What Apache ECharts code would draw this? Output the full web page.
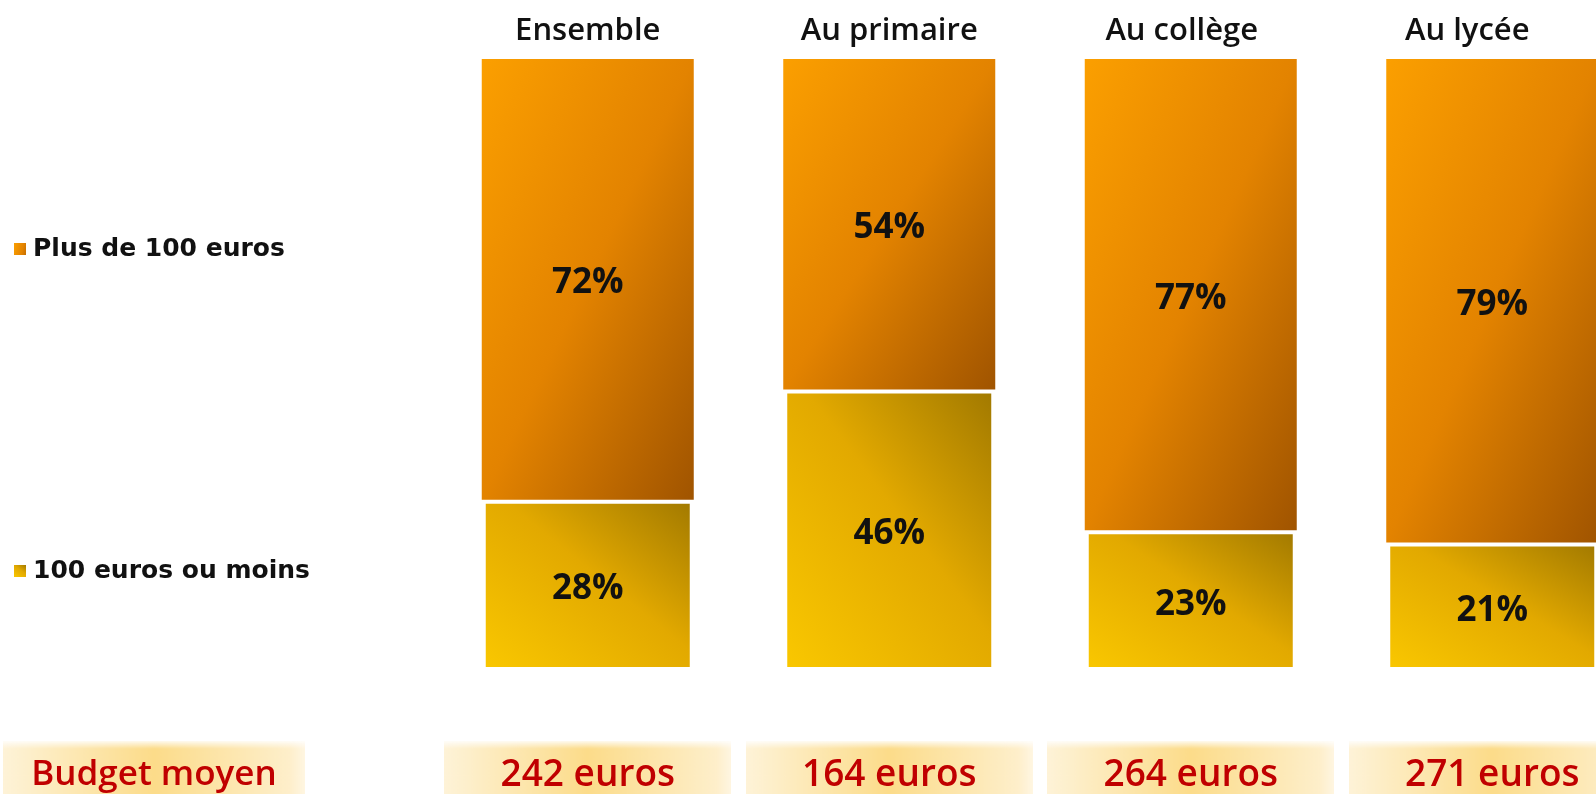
<!DOCTYPE html>
<html>
<head>
<meta charset="utf-8">
<title>Budget</title>
<script src="https://cdn.jsdelivr.net/npm/echarts@6.0.0/dist/echarts.min.js"></script>
<style>
  html, body { margin: 0; padding: 0; background: #fff; }
  #chart { width: 1596px; height: 794px; }
</style>
</head>
<body>
<div id="chart"></div>
<script>
// données
const categories = ["Ensemble", "Au primaire", "Au collège", "Au lycée"];
const moinsDe100 = [28, 46, 23, 21];
const plusDe100 = [72, 54, 77, 79];
const budgets = [242, 164, 264, 271];
const budgetLabels = budgets.map((v) => v + " euros");
const seriesNames = ["100 euros ou moins", "Plus de 100 euros"];

const BAR_W = 212;
const PLOT_H = 612; // hauteur de la zone des barres (pour orienter les dégradés)

// fond des cases "budget" (dégradé pâle -> doré -> pâle)
function boxImage() {
  const c = document.createElement("canvas");
  c.width = 300;
  c.height = 70;
  const ctx = c.getContext("2d");
  const g = ctx.createLinearGradient(0, 0, 300, 0);
  g.addColorStop(0, "#FEF3D8");
  g.addColorStop(0.5, "#FCDC8A");
  g.addColorStop(0.95, "#FEEFCB");
  g.addColorStop(1, "#FFF6E2");
  ctx.fillStyle = g;
  ctx.fillRect(0, 0, 300, 70);
  const v = ctx.createLinearGradient(0, 0, 0, 8);
  v.addColorStop(0, "rgba(255,255,255,0.85)");
  v.addColorStop(1, "rgba(255,255,255,0)");
  ctx.fillStyle = v;
  ctx.fillRect(0, 0, 300, 8);
  return c;
}
const bg = boxImage();

// dégradé en diagonale : les deux autres coins tombent au milieu
function diag(h, stops, fromBottom) {
  const w = BAR_W;
  const k = (2 * w * h) / (w * w + h * h);
  const dx = (h * k) / w;
  const dy = (w * k) / h;
  if (fromBottom) {
    return new echarts.graphic.LinearGradient(0, 1, dx, 1 - dy, stops);
  }
  return new echarts.graphic.LinearGradient(0, 0, dx, dy, stops);
}
const orangeStops = [
  { offset: 0, color: "#FB9F00" },
  { offset: 0.5, color: "#E38300" },
  { offset: 1, color: "#A05400" },
];
const jauneStops = [
  { offset: 0, color: "#FAC800" },
  { offset: 0.55, color: "#E2A900" },
  { offset: 1, color: "#A07800" },
];

const labelStyle = {
  show: true,
  position: "inside",
  offset: [0, 4],
  formatter: "{c}%",
  fontFamily: "Open Sans",
  fontWeight: "bold",
  fontSize: 35,
  color: "#111",
};

const headerFont = {
  fontFamily: "Open Sans",
  fontWeight: 600,
  fontSize: 31,
  color: "#111",
};

const budgetBox = {
  height: 68,
  align: "center",
  backgroundColor: { image: bg },
  fontFamily: "Open Sans",
  fontWeight: 600,
  fontSize: 37,
  color: "#C00000",
};

const chart = echarts.init(document.getElementById("chart"));

const option = {
  backgroundColor: "#fff",
  animation: false,
  grid: {
    left: 437,
    width: 1206,
    top: 59,
    bottom: 123,
    outerBoundsMode: "none",
  },
  legend: {
    data: ["Plus de 100 euros", "100 euros ou moins"],
    orient: "vertical",
    left: 14,
    top: 234,
    padding: 0,
    itemGap: 292,
    icon: "rect",
    itemWidth: 12,
    itemHeight: 12,
    itemStyle: { borderWidth: 0 },
    textStyle: {
      fontFamily: "DejaVu Sans",
      fontWeight: "bold",
      fontSize: 25,
      lineHeight: 30,
      color: "#111",
      padding: [0, 0, 0, 2],
    },
  },
  xAxis: [
    {
      type: "category",
      data: categories,
      position: "top",
      axisLine: { show: false },
      axisTick: { show: false },
      axisLabel: Object.assign({}, headerFont, {
        interval: 0,
        margin: 12,
        formatter: function (v, i) {
          // les deux derniers titres sont un peu décalés vers la gauche
          if (i === 2) return "{c|" + v + "}";
          if (i === 3) return "{d|" + v + "}";
          return v;
        },
        rich: {
          c: Object.assign({ padding: [0, 18, 0, 0] }, headerFont),
          d: Object.assign({ padding: [0, 50, 0, 0] }, headerFont),
        },
      }),
    },
    {
      type: "category",
      data: budgetLabels,
      position: "bottom",
      offset: 70,
      axisLine: { show: false },
      axisTick: { show: false },
      name: "{b|Budget moyen}",
      nameLocation: "start",
      nameGap: 132,
      nameTextStyle: {
        verticalAlign: "top",
        rich: { b: Object.assign({}, budgetBox, { width: 302, fontSize: 35 }) },
      },
      axisLabel: {
        interval: 0,
        margin: 0,
        formatter: function (v) {
          return "{b|" + v + "}";
        },
        rich: { b: Object.assign({ width: 287 }, budgetBox) },
      },
    },
  ],
  yAxis: {
    type: "value",
    min: 0,
    max: 100,
    show: false,
  },
  series: [
    {
      name: seriesNames[0],
      type: "bar",
      stack: "total",
      barWidth: BAR_W,
      data: moinsDe100.map((v) => ({
        value: v,
        itemStyle: { color: diag((v / 100) * PLOT_H, jauneStops, true) },
      })),
      itemStyle: {
        color: diag(0.3 * PLOT_H, jauneStops, true),
        borderColor: "#fff",
        borderWidth: 4,
      },
      label: labelStyle,
    },
    {
      name: seriesNames[1],
      type: "bar",
      stack: "total",
      barWidth: BAR_W,
      data: plusDe100.map((v) => ({
        value: v,
        itemStyle: { color: diag((v / 100) * PLOT_H, orangeStops, false) },
      })),
      itemStyle: { color: diag(0.7 * PLOT_H, orangeStops, false) },
      label: labelStyle,
    },
  ],
};

chart.setOption(option);
</script>
</body>
</html>
